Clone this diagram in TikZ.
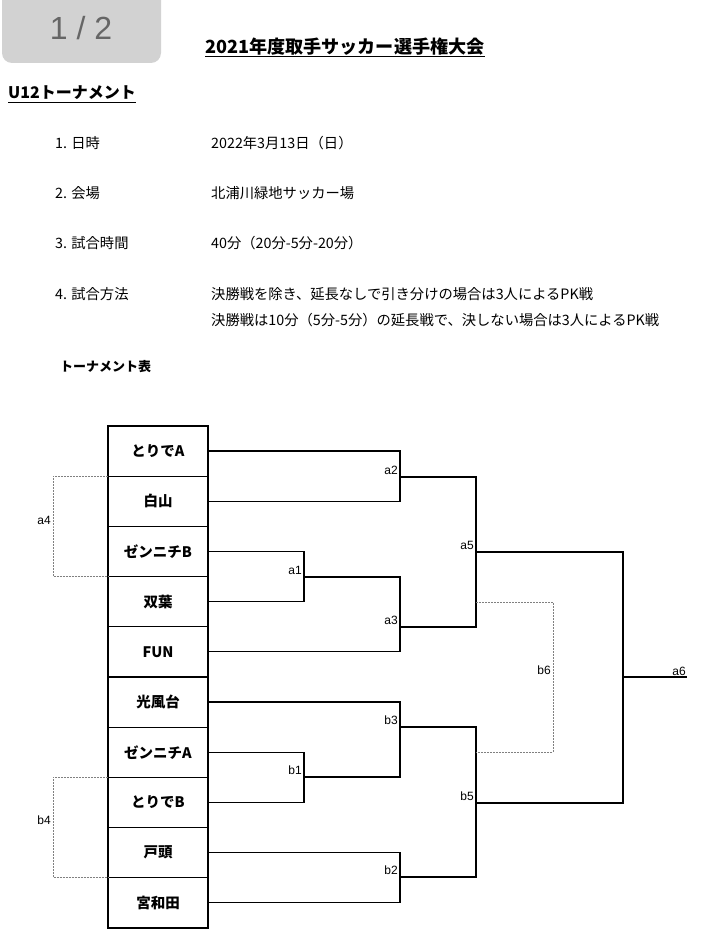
\documentclass[tikz,border=0pt]{standalone}
\usepackage{fontspec}
\setmainfont{Noto Sans CJK JP}
\newfontfamily\gamefont{Liberation Sans}
\usetikzlibrary{positioning}

\begin{document}
\begin{tikzpicture}[x=1pt,y=-1pt,
  team/.style={draw,line width=1.2pt,outer sep=0pt,inner sep=0pt,
    minimum width=100pt,minimum height=50.2pt,font=\fontsize{14.5}{16}\selectfont\bfseries},
  bracket/.style={line width=1.2pt},
  loser/.style={gray,line width=0.6pt,dash pattern=on 2pt off 1pt},
  game/.style={font=\gamefont\fontsize{12}{14}\selectfont,inner sep=2pt},
  item/.style={anchor=west,inner sep=0pt,font=\fontsize{14.3}{16}\selectfont}]
  \useasboundingbox (0,0) rectangle (707,942);
  % page badge and headings
  \fill[gray!35,rounded corners=10pt] (2,-12) rectangle (161,63);
  \node[text=gray!80!black,font=\gamefont\fontsize{32}{34}\selectfont] (page) at (81,28) {1 / 2};
  \node[anchor=base west,inner sep=0pt,font=\fontsize{18.1}{20}\selectfont\bfseries] (title) at (205,54) {2021年度取手サッカー選手権大会};
  \draw[line width=1pt] ([yshift=-3pt]title.base west) -- ([yshift=-3pt]title.base east);
  \node[anchor=base west,inner sep=0pt,font=\fontsize{16}{18}\selectfont\bfseries] (sub) at (8,99) {U12トーナメント};
  \draw[line width=1pt] ([yshift=-3pt]sub.base west) -- ([yshift=-3pt]sub.base east);
  % outline
  \node[item] (k1) at (55,143) {1. 日時};
  \node[item] (v1) at (211,143) {2022年3月13日（日）};
  \node[item] (k2) at (55,193) {2. 会場};
  \node[item] (v2) at (211,193) {北浦川緑地サッカー場};
  \node[item] (k3) at (55,243) {3. 試合時間};
  \node[item] (v3) at (211,243) {40分（20分-5分-20分）};
  \node[item] (k4) at (55,294) {4. 試合方法};
  \node[item] (v4) at (211,294) {決勝戦を除き、延長なしで引き分けの場合は3人によるPK戦};
  \node[item] (v5) at (211,320) {決勝戦は10分（5分-5分）の延長戦で、決しない場合は3人によるPK戦};
  \node[item,font=\fontsize{13}{15}\selectfont\bfseries] (table) at (60,367) {トーナメント表};
  % teams
  \node[team] (t1) at (158,451) {とりでA};
  \node[team,below=0pt of t1] (t2) {白山};
  \node[team,below=0pt of t2] (t3) {ゼンニチB};
  \node[team,below=0pt of t3] (t4) {双葉};
  \node[team,below=0pt of t4] (t5) {FUN};
  \node[team,below=0pt of t5] (t6) {光風台};
  \node[team,below=0pt of t6] (t7) {ゼンニチA};
  \node[team,below=0pt of t7] (t8) {とりでB};
  \node[team,below=0pt of t8] (t9) {戸頭};
  \node[team,below=0pt of t9] (t10) {宮和田};
  % games
  \coordinate (a1) at (304,577);
  \coordinate (a2) at (400,477);
  \coordinate (a3) at (400,627);
  \coordinate (a4) at (53,527);
  \coordinate (a5) at (476,552);
  \coordinate (a6) at (623,677);
  \coordinate (a6end) at (687,677);
  \coordinate (b1) at (304,777);
  \coordinate (b2) at (400,877);
  \coordinate (b3) at (400,727);
  \coordinate (b4) at (53,827);
  \coordinate (b5) at (476,803);
  \coordinate (b6) at (553,677);
  \coordinate (b6top) at (476,602);
  \coordinate (b6bot) at (476,752);
  \draw[bracket] (t3.east) -| (a1) |- (t4.east);
  \draw[bracket] (t1.east) -| (a2) |- (t2.east);
  \draw[bracket] (a1) -| (a3) |- (t5.east);
  \draw[bracket] (a2) -| (a5) |- (a3);
  \draw[bracket] (t7.east) -| (b1) |- (t8.east);
  \draw[bracket] (t6.east) -| (b3) |- (b1);
  \draw[bracket] (t9.east) -| (b2) |- (t10.east);
  \draw[bracket] (b3) -| (b5) |- (b2);
  \draw[bracket] (a5) -| (a6) |- (b5);
  \draw[bracket] (a6) -- (a6end);
  \draw[loser] (t2.north west) -| (a4) |- (t4.north west);
  \draw[loser] (t8.north west) -| (b4) |- (t10.north west);
  \draw[loser] (b6top) -| (b6) |- (b6bot);
  % game labels
  \node[game,above left] at (a1) {a1};
  \node[game,above left] at (a2) {a2};
  \node[game,above left] at (a3) {a3};
  \node[game,above left] at (a4) {a4};
  \node[game,above left] at (a5) {a5};
  \node[game,above left,inner sep=1pt] at (a6end) {a6};
  \node[game,above left] at (b1) {b1};
  \node[game,above left] at (b2) {b2};
  \node[game,above left] at (b3) {b3};
  \node[game,above left] at (b4) {b4};
  \node[game,above left] at (b5) {b5};
  \node[game,above left] at (b6) {b6};
\end{tikzpicture}
\end{document}
